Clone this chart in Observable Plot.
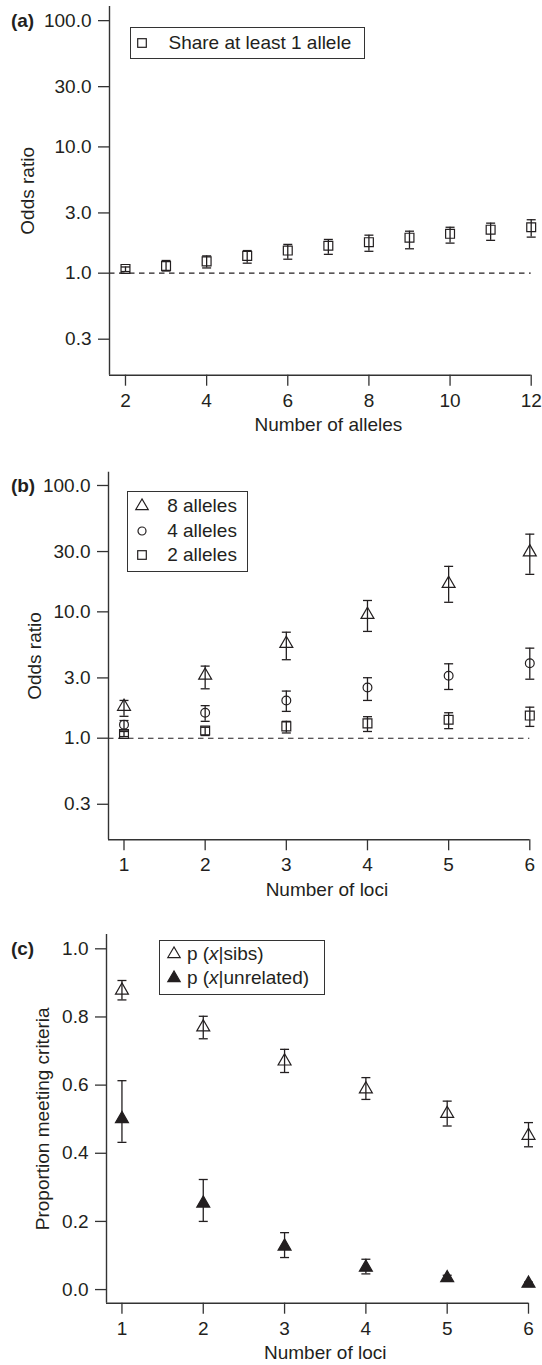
<!DOCTYPE html>
<html><head><meta charset="utf-8">
<script src="https://cdn.jsdelivr.net/npm/d3@7"></script>
<script src="https://cdn.jsdelivr.net/npm/@observablehq/plot@0.6"></script>
<style>
body{margin:0;background:#fff;}
#wrap{width:542px;position:relative;font-family:"Liberation Sans",Arial,Helvetica,sans-serif;color:#231f20;}
.panel{position:relative;width:542px;}
.panel svg{display:block;}
.legend{position:absolute;border:1.3px solid #333;box-sizing:border-box;background:#fff;}
.item{position:absolute;font-size:19px;line-height:22px;white-space:nowrap;color:#231f20;}
.sym{position:absolute;overflow:visible;}
</style></head><body><div id="wrap"></div>
<script>
// ---------- data ----------
const alleleCounts = [2, 3, 4, 5, 6, 7, 8, 9, 10, 11, 12];
const shareOR = [1.08, 1.14, 1.24, 1.37, 1.51, 1.65, 1.76, 1.91, 2.05, 2.21, 2.31];
const shareLo = [1.03, 1.04, 1.10, 1.20, 1.29, 1.41, 1.49, 1.56, 1.73, 1.82, 1.93];
const shareHi = [1.12, 1.26, 1.37, 1.51, 1.69, 1.85, 2.00, 2.15, 2.31, 2.49, 2.65];

const lociCounts = [1, 2, 3, 4, 5, 6];
const or8 = [1.78, 3.14, 5.6, 9.5, 16.7, 29.7];
const or8Lo = [1.49, 2.46, 4.18, 7.0, 11.9, 19.8];
const or8Hi = [1.99, 3.72, 6.9, 12.3, 22.9, 41.2];
const or4 = [1.28, 1.59, 1.99, 2.52, 3.12, 3.92];
const or4Lo = [1.16, 1.36, 1.63, 1.99, 2.43, 2.93];
const or4Hi = [1.38, 1.81, 2.36, 3.01, 3.88, 5.16];
const or2 = [1.08, 1.15, 1.24, 1.31, 1.40, 1.51];
const or2Lo = [1.03, 1.05, 1.10, 1.13, 1.19, 1.24];
const or2Hi = [1.13, 1.22, 1.36, 1.48, 1.59, 1.76];

const pSibs = [0.878, 0.770, 0.670, 0.588, 0.516, 0.452];
const pSibsLo = [0.850, 0.736, 0.637, 0.558, 0.480, 0.419];
const pSibsHi = [0.907, 0.802, 0.705, 0.622, 0.553, 0.490];
const pUnrel = [0.501, 0.253, 0.127, 0.065, 0.034, 0.018];
const pUnrelLo = [0.432, 0.200, 0.094, 0.046, 0.028, 0.014];
const pUnrelHi = [0.613, 0.323, 0.167, 0.089, 0.042, 0.022];

const orTicks = [0.3, 1, 3, 10, 30, 100];
const propTicks = [0, 0.2, 0.4, 0.6, 0.8, 1.0];
const alleleTicks = [2, 4, 6, 8, 10, 12];
const lociTicks = [1, 2, 3, 4, 5, 6];

// ---------- helpers ----------
const INK = "#231f20";
const FONT = "'Liberation Sans', Arial, Helvetica, sans-serif";
const rows = (xs, v, lo, hi) => xs.map((x, i) => ({x, v: v[i], lo: lo[i], hi: hi[i]}));
const capSymbol = {draw(ctx, size) { const r = Math.sqrt(size / Math.PI); ctx.moveTo(-r, 0); ctx.lineTo(r, 0); }};

function series(data, symbol, r, filled) {
  return [
    Plot.ruleX(data, {x: "x", y1: "lo", y2: "hi", stroke: INK, strokeWidth: 1.3}),
    Plot.dot(data, {x: "x", y: "lo", symbol: capSymbol, r: 4.5, stroke: INK, strokeWidth: 1.3, fill: "none"}),
    Plot.dot(data, {x: "x", y: "hi", symbol: capSymbol, r: 4.5, stroke: INK, strokeWidth: 1.3, fill: "none"}),
    Plot.dot(data, {x: "x", y: "v", symbol, r, stroke: INK, strokeWidth: 1.2, fill: filled ? INK : "none"})
  ];
}

function makePanel(o) {
  const marks = [
    ...(o.dashed ? [Plot.ruleY([1], {stroke: INK, strokeWidth: 1.1, strokeDasharray: "5.5,4.5"})] : []),
    Plot.ruleX([o.xDomain[0]], {stroke: "#333", strokeWidth: 1.4}),
    Plot.ruleY([o.yDomain[0]], {stroke: "#333", strokeWidth: 1.4}),
    Plot.axisY({ticks: o.yTicks, tickFormat: d3.format(".1f"), tickSize: 11, tickPadding: 7, label: null, stroke: "#333", strokeWidth: 1.3, fill: INK, fontSize: 19}),
    Plot.axisX({ticks: o.xTicks, tickFormat: d3.format("d"), tickSize: 11, tickPadding: 7, label: null, stroke: "#333", strokeWidth: 1.3, fill: INK, fontSize: 19}),
    ...o.marks,
    Plot.text([o.labelY], {y: d => d, frameAnchor: "left", dx: 10.4 - o.ml, textAnchor: "start", text: () => o.panelLabel, fontWeight: "bold", fontSize: 19, fill: INK}),
    Plot.text([o.ylab], {frameAnchor: "left", rotate: -90, dx: o.ylabX - o.ml, textAnchor: "middle", lineAnchor: "middle", text: d => d, fontSize: 19, fill: INK}),
    Plot.text([(o.xTicks[0] + o.xTicks[o.xTicks.length - 1]) / 2], {x: d => d, frameAnchor: "bottom", dy: 50, textAnchor: "middle", lineAnchor: "middle", text: () => o.xlab, fontSize: 19, fill: INK})
  ];
  return Plot.plot({
    width: 542, height: o.height,
    marginLeft: o.ml, marginRight: o.mr, marginTop: o.mt, marginBottom: o.mb,
    style: {fontFamily: FONT, fontSize: "19px", color: INK, background: "white", overflow: "visible"},
    x: {domain: o.xDomain},
    y: {type: o.yType, domain: o.yDomain},
    marks
  });
}

function symSvg(kind) {
  const s = 20, c = 10;
  let inner = "";
  if (kind === "square") inner = `<rect x="${c - 4.3}" y="${c - 4.3}" width="8.6" height="8.6" fill="none" stroke="${INK}" stroke-width="1.2"/>`;
  if (kind === "circle") inner = `<circle cx="${c}" cy="${c}" r="4" fill="none" stroke="${INK}" stroke-width="1.2"/>`;
  if (kind === "triangle" || kind === "triangleFilled") {
    const w = 6.2, h = 10.6;
    const pts = `${c},${c - h * 2 / 3} ${c - w},${c + h / 3} ${c + w},${c + h / 3}`;
    inner = `<polygon points="${pts}" fill="${kind === "triangleFilled" ? INK : "none"}" stroke="${INK}" stroke-width="1.2"/>`;
  }
  return `<svg class="sym" width="${s}" height="${s}" viewBox="0 0 ${s} ${s}">${inner}</svg>`;
}

function addLegend(panelDiv, box, items) {
  const lg = document.createElement("div");
  lg.className = "legend";
  Object.assign(lg.style, {left: box.left + "px", top: box.top + "px", width: box.width + "px", height: box.height + "px"});
  let html = "";
  for (const it of items) {
    html += `<div style="position:absolute;left:${it.sx - 1.3 - 10}px;top:${it.cy - 1.3 - 10}px;width:20px;height:20px">${symSvg(it.sym)}</div>`;
    html += `<div class="item" style="left:${it.tx - 1.3}px;top:${it.cy - 1.3 - 11}px">${it.html}</div>`;
  }
  lg.innerHTML = html;
  panelDiv.appendChild(lg);
}

const wrap = document.getElementById("wrap");
function addPanel(svg) {
  const d = document.createElement("div");
  d.className = "panel";
  d.appendChild(svg);
  wrap.appendChild(d);
  return d;
}

// ---------- panel (a) ----------
const pa = addPanel(makePanel({
  height: 465, mt: 6, mb: 90.3, ml: 109, mr: 11.3,
  xDomain: [1.606, 12], yType: "log", yDomain: [0.1556, 129.4],
  xTicks: alleleTicks, yTicks: orTicks, dashed: true,
  marks: series(rows(alleleCounts, shareOR, shareLo, shareHi), "square", 5.0, false),
  panelLabel: "(a)", labelY: 100, ylab: "Odds ratio", ylabX: 27, xlab: "Number of alleles"
}));
addLegend(pa, {left: 129.8, top: 26.7, width: 235.2, height: 32.3}, [
  {sym: "square", sx: 12.8, cy: 16.3, tx: 39, html: "Share at least 1 allele"}
]);

// ---------- panel (b) ----------
const pb = addPanel(makePanel({
  height: 460, mt: 6.7, mb: 85.7, ml: 108, mr: 12.7,
  xDomain: [0.809, 6], yType: "log", yDomain: [0.157, 127.4],
  xTicks: lociTicks, yTicks: orTicks, dashed: true,
  marks: [
    ...series(rows(lociCounts, or2, or2Lo, or2Hi), "square", 5.0, false),
    ...series(rows(lociCounts, or4, or4Lo, or4Hi), "circle", 4.4, false),
    ...series(rows(lociCounts, or8, or8Lo, or8Hi), "triangle", 4.8, false)
  ],
  panelLabel: "(b)", labelY: 100, ylab: "Odds ratio", ylabX: 34, xlab: "Number of loci"
}));
addLegend(pb, {left: 127.3, top: 25.7, width: 120.5, height: 81}, [
  {sym: "triangle", sx: 15.3, cy: 16, tx: 40.2, html: "8 alleles"},
  {sym: "circle", sx: 15.3, cy: 41, tx: 40.2, html: "4 alleles"},
  {sym: "square", sx: 15.3, cy: 64.3, tx: 40.2, html: "2 alleles"}
]);

// ---------- panel (c) ----------
const pc = addPanel(makePanel({
  height: 440, mt: 9, mb: 62.3, ml: 106, mr: 14,
  xDomain: [0.81, 6], yType: "linear", yDomain: [-0.040, 1.042],
  xTicks: lociTicks, yTicks: propTicks, dashed: false,
  marks: [
    ...series(rows(lociCounts, pSibs, pSibsLo, pSibsHi), "triangle", 4.8, false),
    ...series(rows(lociCounts, pUnrel, pUnrelLo, pUnrelHi), "triangle", 4.8, true)
  ],
  panelLabel: "(c)", labelY: 1.0, ylab: "Proportion meeting criteria", ylabX: 42, xlab: "Number of loci"
}));
addLegend(pc, {left: 159.2, top: 15, width: 166, height: 55}, [
  {sym: "triangle", sx: 15, cy: 14.3, tx: 28, html: "p (<i>x</i>|sibs)"},
  {sym: "triangleFilled", sx: 15, cy: 38.3, tx: 28, html: "p (<i>x</i>|unrelated)"}
]);
</script></body></html>
